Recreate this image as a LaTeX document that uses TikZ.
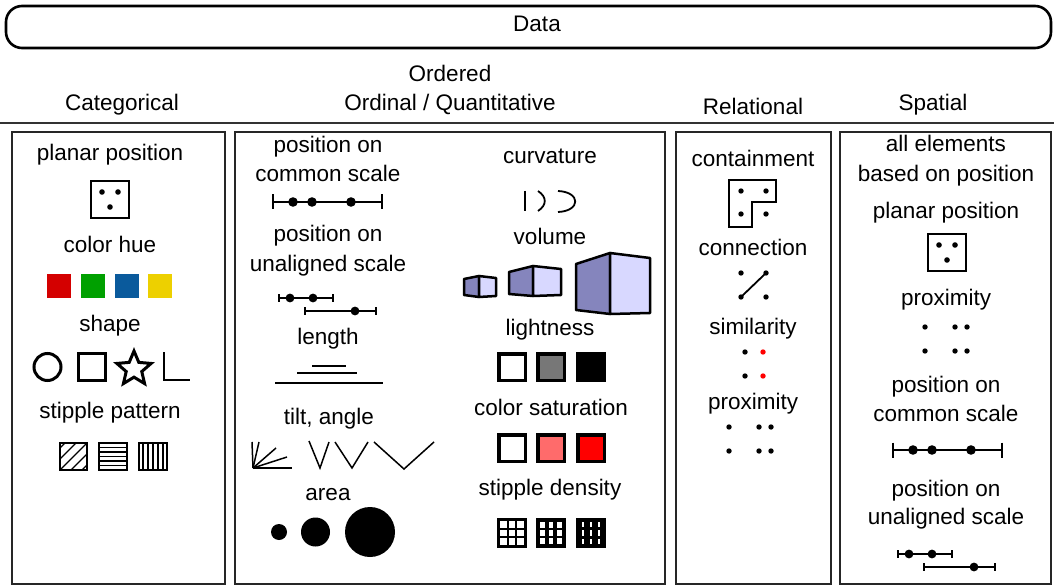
\documentclass[tikz,border=0pt]{standalone}
\usepackage{fontspec}
\setmainfont{Liberation Sans}
\usetikzlibrary{shapes.geometric}
\definecolor{huered}{HTML}{D40000}
\definecolor{huegreen}{HTML}{00A000}
\definecolor{hueblue}{HTML}{0A5A9C}
\definecolor{hueyellow}{HTML}{EDD000}
\definecolor{cubedark}{HTML}{8585BD}
\definecolor{cubelight}{HTML}{D8D8FF}
\definecolor{satred}{HTML}{FF6B6B}
\definecolor{midgray}{HTML}{777777}
\tikzset{
	lbl/.style={anchor=base, inner sep=0pt, font=\fontsize{22.5}{27}\selectfont}
}
\tikzset{
	colbox/.style={draw=black!85, line width=1.6pt}
}
\tikzset{
	thicksq/.style={draw=black, line width=3.5pt}
}
\tikzset{
	planarsq/.pic={
			\draw[line width=2.6pt] (-19,-18.5) rectangle (19,18.5);
			\fill (-8,-7.5) circle[radius=2.8] (8,-7.5) circle[radius=2.8] (0,7.5) circle[radius=2.8];
		}
}
\tikzset{
	commonscale/.pic={
			\draw[line width=1.5pt] (0,0) -- (109,0) (0,-7.5) -- (0,7.5) (109,-7.5) -- (109,7.5);
			\fill (20,0) circle[radius=4.8] (39,0) circle[radius=4.8] (78,0) circle[radius=4.8];
		}
}
\tikzset{
	unalignedscale/.pic={
			\draw[line width=1.3pt] (0,0) -- (54,0) (0,-4) -- (0,4) (54,-4) -- (54,4);
			\draw[line width=1.3pt] (26,13) -- (97,13) (26,9) -- (26,17) (97,9) -- (97,17);
			\fill (11,0) circle[radius=4.4] (34,0) circle[radius=4.4] (76,13) circle[radius=4.4];
		}
}
\tikzset{
	proxdots/.pic={
			\foreach \dx in {0,30,42}{
				\fill (\dx,0) circle[radius=2.7] (\dx,24) circle[radius=2.7];
			}
		}
}

\begin{document}
\begin{tikzpicture}[x=1pt, y=-1pt]
\useasboundingbox (0,0) rectangle (1054,585);

% top band
\draw[line width=2.6pt, rounded corners=16pt] (6,6) rectangle (1051,48);
\node[lbl] (data) at (537,32) {Data};

\node[lbl] (hcat) at (122,111) {Categorical};
\node[lbl] (hord) at (450,82) {Ordered};
\node[lbl] (hordq) at (450,111) {Ordinal / Quantitative};
\node[lbl] (hrel) at (753,115) {Relational};
\node[lbl] (hspa) at (933,111) {Spatial};
\draw[line width=2pt, black!80] (0,123) -- (1054,123);

% column boxes
\draw[colbox] (12,132) rectangle (225,584);
\draw[colbox] (235,132) rectangle (665,584);
\draw[colbox] (676,132) rectangle (831,584);
\draw[colbox] (840,132) rectangle (1051,584);

% categorical
\node[lbl] (catplanar) at (110,161) {planar position};
\pic at (110,199.5) {planarsq};
\node[lbl] (cathue) at (110,253) {color hue};
\fill[huered] (47,274) rectangle (71,298);
\fill[huegreen] (81,274) rectangle (105,298);
\fill[hueblue] (115,274) rectangle (139,298);
\fill[hueyellow] (148,274) rectangle (172,298);
\node[lbl] (catshape) at (110,331) {shape};
\draw[line width=3pt] (47.5,367) circle[radius=13.5];
\draw[line width=3pt] (78,353) rectangle (105,380);
\node[star, star points=5, star point ratio=2.2, draw, line width=3pt, minimum size=36pt, inner sep=0pt] (catstar) at (134,369) {};
\draw[line width=2.5pt] (164,352) -- (164,380) -- (190,380);
\node[lbl] (catstipple) at (110,418) {stipple pattern};
\begin{scope}
	\clip (60,443) rectangle (87,470);
	\foreach \c in {508,519,530,541,552}{
		\draw[line width=1.3pt] (\c-443,443) -- (\c-470,470);
	}
\end{scope}
\foreach \hy in {447.5,452,456.5,461,465.5}{
	\draw[line width=1.2pt] (99,\hy) -- (127,\hy);
}
\foreach \vx in {143,148,153,158,163}{
	\draw[line width=1.2pt] (\vx,443) -- (\vx,470);
}
\draw[line width=2.8pt] (60,443) rectangle (87,470);
\draw[line width=2.8pt] (99,443) rectangle (127,470);
\draw[line width=2.8pt] (139,443) rectangle (167,470);

% ordered, left half
\node[lbl] (ordpos1) at (328,153) {position on};
\node[lbl] (ordpos2) at (328,182) {common scale};
\pic at (273,202) {commonscale};
\node[lbl] (ordunal1) at (328,242) {position on};
\node[lbl] (ordunal2) at (328,271) {unaligned scale};
\pic at (279,298) {unalignedscale};
\node[lbl] (ordlength) at (328,344) {length};
\draw[line width=1.5pt] (312,366) -- (346,366);
\draw[line width=1.5pt] (297,373) -- (357,373);
\draw[line width=1.5pt] (275,383) -- (383,383);
\node[lbl] (ordtilt) at (329,424) {tilt, angle};
\coordinate (fan) at (253,468);
\foreach \ex/\ey in {252/442, 259/442, 276/448, 287/457, 292/468}{
	\draw[line width=1.5pt] (fan) -- (\ex,\ey);
}
\draw[line width=1.5pt] (309,441) -- (320,468) -- (329,442);
\draw[line width=1.5pt] (335,442) -- (352,468) -- (368,442);
\draw[line width=1.5pt] (374,442) -- (404,469) -- (434,442);
\node[lbl] (ordarea) at (328,500) {area};
\fill (279,532) circle[radius=8];
\fill (315.5,532) circle[radius=14.5];
\fill (370,532) circle[radius=25];

% ordered, right half
\node[lbl] (ordcurv) at (550,164) {curvature};
\draw[line width=1.8pt] (525,191) -- (525,211);
\draw[line width=1.8pt] (538,191) .. controls (547,197) and (547,205) .. (538,211);
\draw[line width=1.8pt] (558,191) .. controls (581,192) and (581,211) .. (558,212);
\node[lbl] (ordvol) at (550,244) {volume};
\begin{scope}[line width=2.5pt, line join=round]
	\draw[fill=cubedark] (464,279) -- (479,276) -- (479,297) -- (464,295) -- cycle;
	\draw[fill=cubelight] (479,276) -- (496,278) -- (496,296) -- (479,297) -- cycle;
	\draw[fill=cubedark] (509,272) -- (533,266) -- (533,296) -- (509,294) -- cycle;
	\draw[fill=cubelight] (533,266) -- (561,269) -- (561,295) -- (533,296) -- cycle;
	\draw[fill=cubedark] (576,264) -- (610,253) -- (610,314) -- (576,310) -- cycle;
	\draw[fill=cubelight] (610,253) -- (650,258) -- (650,313) -- (610,314) -- cycle;
\end{scope}
\node[lbl] (ordlight) at (550,335) {lightness};
\foreach \sx/\col in {497/white, 536/midgray, 576/black}{
	\draw[thicksq, fill=\col] (\sx+1.75,353.75) rectangle ++(26.5,26.5);
}
\node[lbl] (ordsat) at (551,415) {color saturation};
\foreach \sx/\col in {497/white, 536/satred, 576/red}{
	\draw[thicksq, fill=\col] (\sx+1.75,434.75) rectangle ++(26.5,26.5);
}
\node[lbl] (orddens) at (550,495) {stipple density};
\foreach \sx/\cw/\ch in {497/6.9/6.9, 536/4.6/5.8, 576/2.2/5.2}{
	\fill (\sx,518) rectangle ++(30,30);
	\foreach \i in {0,1,2}{
		\foreach \j in {0,1,2}{
			\fill[white] ({\sx+2.5+\i*8.33+(8.33-\cw)/2},{520.5+\j*8.33+(8.33-\ch)/2}) rectangle ++(\cw,\ch);
		}
	}
}

% relational
\node[lbl] (relcont) at (753,167) {containment};
\draw[line width=2.5pt] (729,180) -- (776,180) -- (776,202) -- (752,202) -- (752,227) -- (729,227) -- cycle;
\foreach \px/\py in {741/191, 766/191, 741/214, 766/214}{
	\fill (\px,\py) circle[radius=2.7];
}
\node[lbl] (relconn) at (753,255) {connection};
\coordinate (conna) at (741,297);
\coordinate (connb) at (766,273);
\foreach \px/\py in {741/273, 766/273, 741/297, 766/297}{
	\fill (\px,\py) circle[radius=2.7];
}
\draw[line width=1.8pt] (conna) -- (connb);
\node[lbl] (relsim) at (753,334) {similarity};
\fill (745,352) circle[radius=2.7] (745,376) circle[radius=2.7];
\fill[red] (763,352) circle[radius=2.7] (763,376) circle[radius=2.7];
\node[lbl] (relprox) at (753,409) {proximity};
\pic at (729,427) {proxdots};

% spatial
\node[lbl] (spaall1) at (946,152) {all elements};
\node[lbl] (spaall2) at (946,182) {based on position};
\node[lbl] (spaplanar) at (946,219) {planar position};
\pic at (947,252.5) {planarsq};
\node[lbl] (spaprox) at (946,305) {proximity};
\pic at (925,327) {proxdots};
\node[lbl] (spapos1) at (946,392) {position on};
\node[lbl] (spapos2) at (946,421) {common scale};
\pic at (893,450) {commonscale};
\node[lbl] (spaunal1) at (946,496) {position on};
\node[lbl] (spaunal2) at (946,524) {unaligned scale};
\pic at (898,554) {unalignedscale};

\end{tikzpicture}
\end{document}
